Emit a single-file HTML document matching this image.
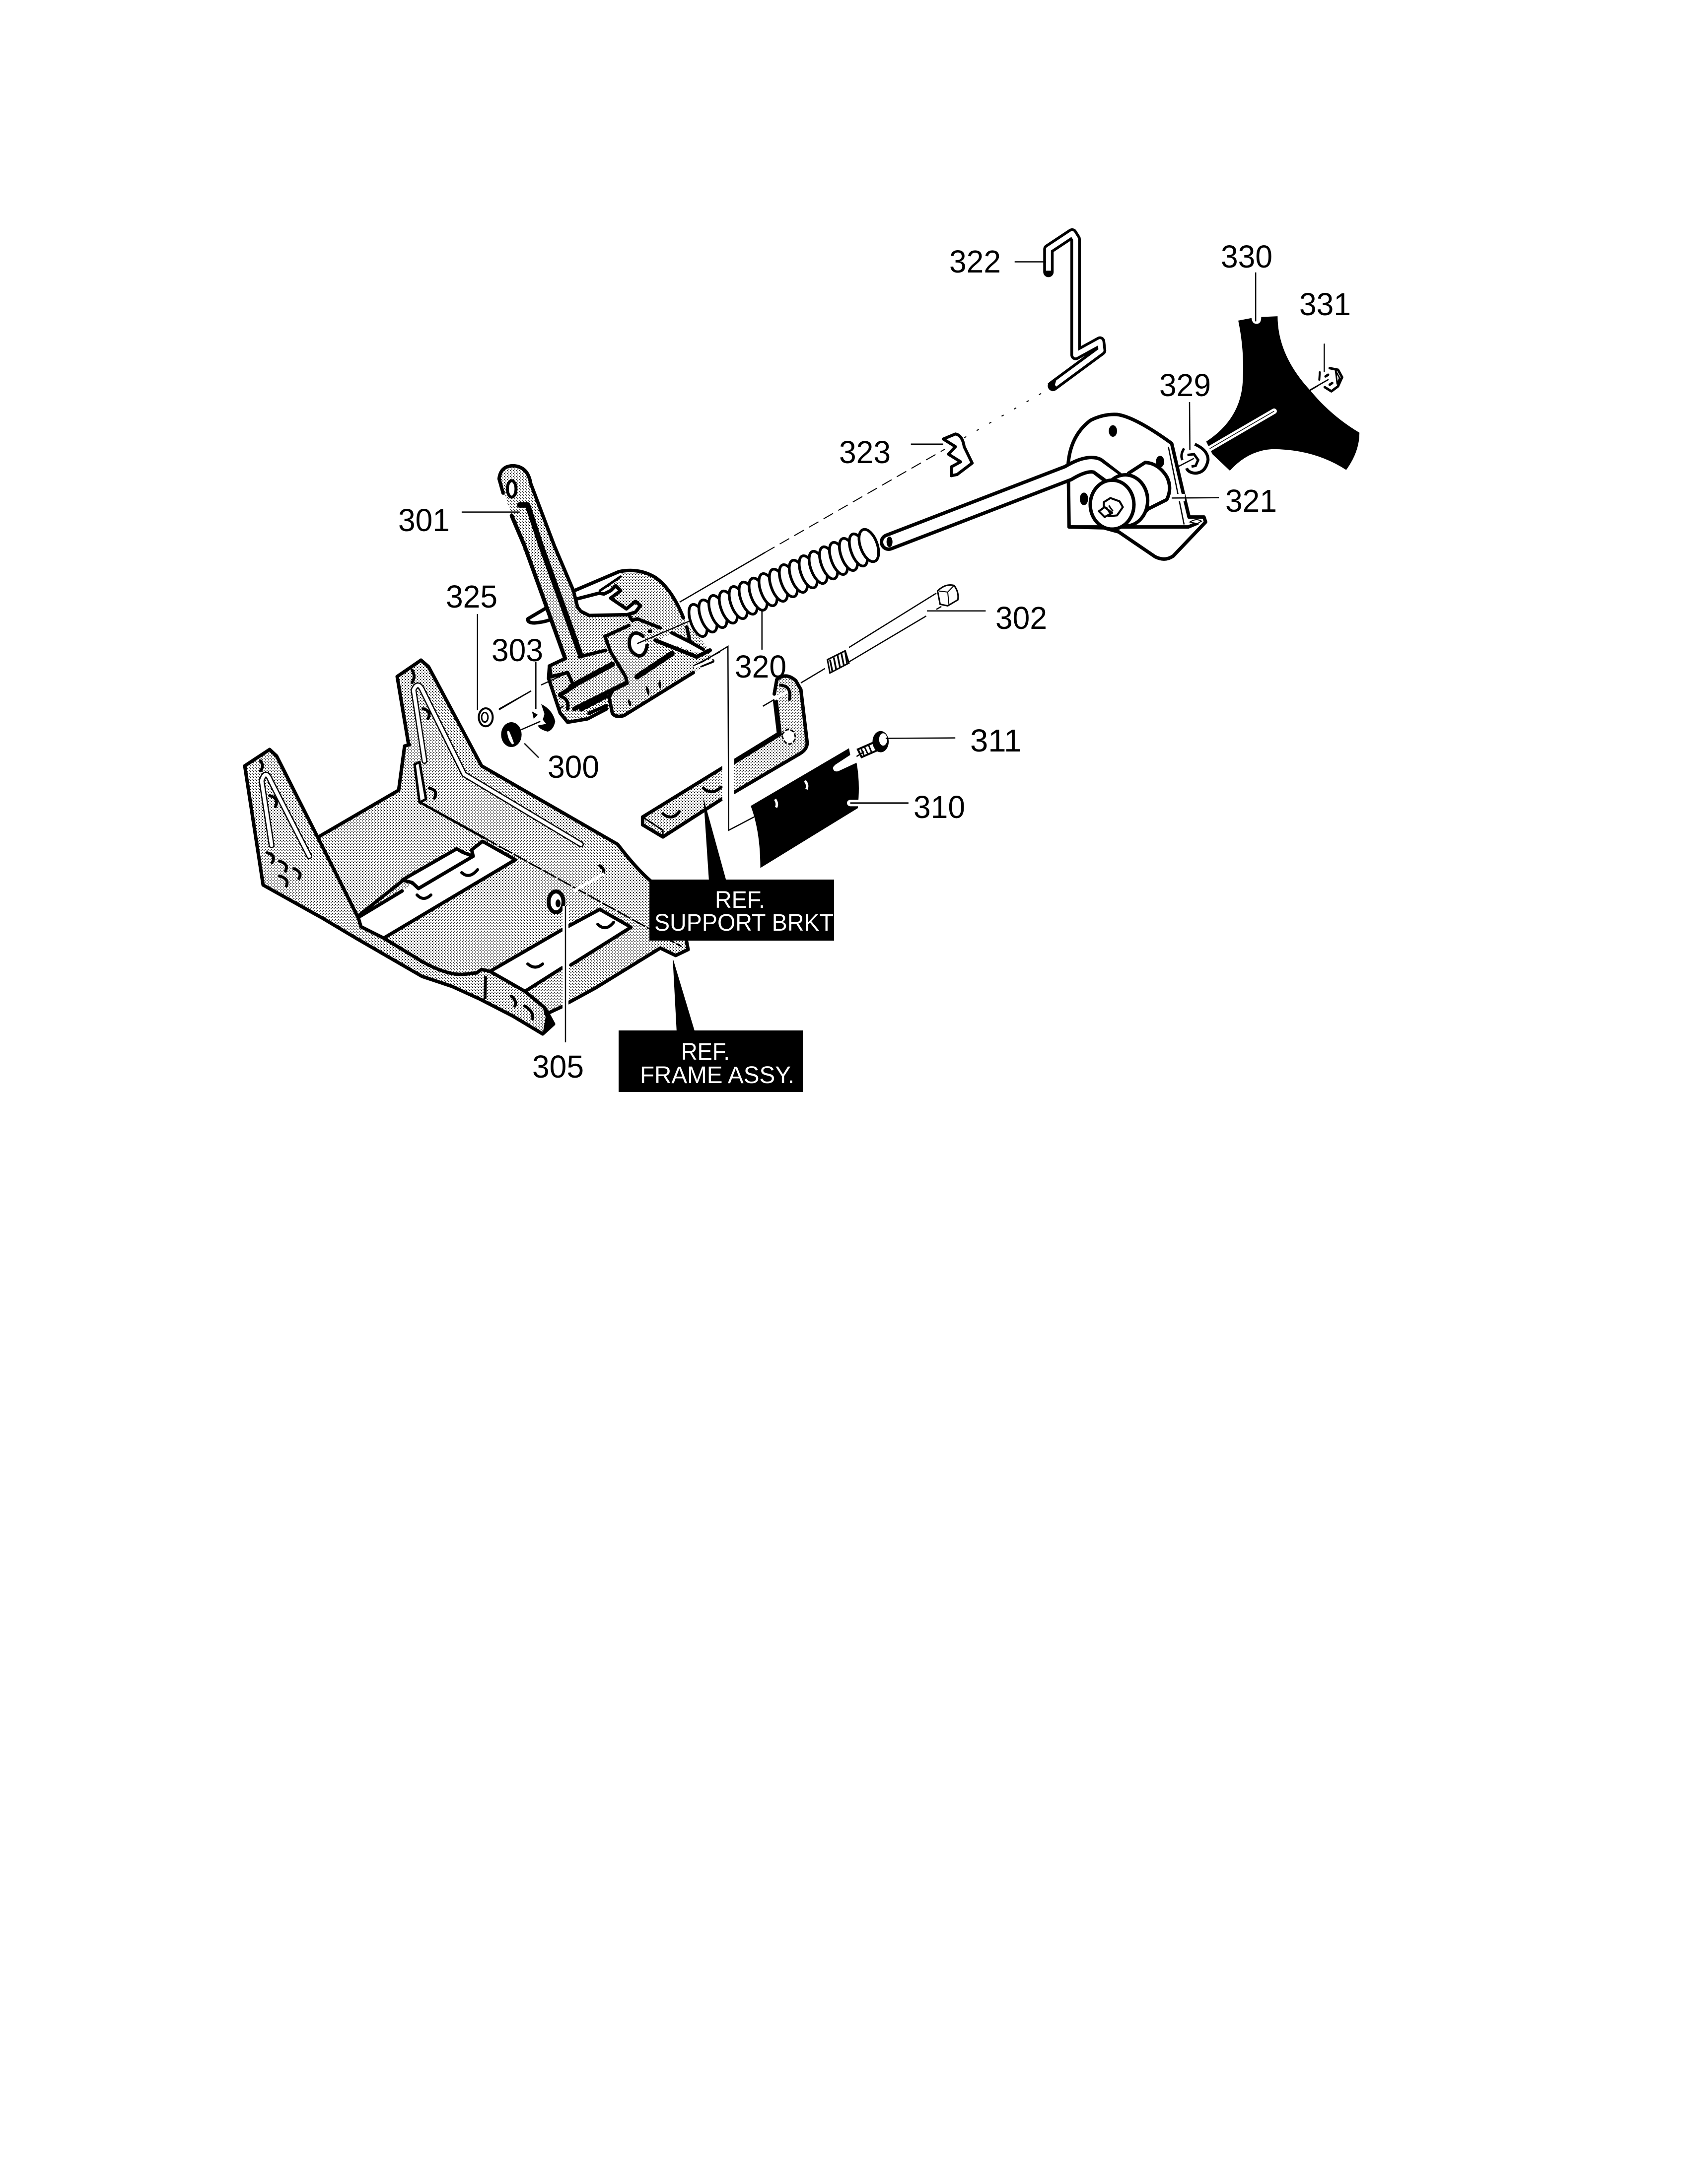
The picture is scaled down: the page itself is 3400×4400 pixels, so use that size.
<!DOCTYPE html>
<html><head><meta charset="utf-8"><style>
html,body{margin:0;padding:0;background:#fff}
svg{display:block}
svg *{vector-effect:non-scaling-stroke}
text{font-family:"Liberation Sans",sans-serif;fill:#000;stroke:none}
.n{font-size:64px}
.w{font-size:48px;fill:#fff}
.k{fill:none;stroke:#000;stroke-width:7;stroke-linejoin:round;stroke-linecap:round}
.t{fill:none;stroke:#000;stroke-width:2.5}
</style></head><body>
<svg xmlns="http://www.w3.org/2000/svg" width="3400" height="4400" viewBox="0 0 3400 4400">
<defs>
<pattern id="p0" width="6" height="6" patternUnits="userSpaceOnUse"><rect x="0" y="0" width="1.8" height="1.8"/><rect x="3" y="3" width="1.8" height="1.8"/></pattern>
<pattern id="p3" width="6" height="6" patternUnits="userSpaceOnUse" patternTransform="scale(3,3)"><rect x="0" y="0" width="1.8" height="1.8"/><rect x="3" y="3" width="1.8" height="1.8"/></pattern>
<pattern id="p4" width="6" height="6" patternUnits="userSpaceOnUse" patternTransform="scale(1.96,2.24)"><rect x="0" y="0" width="1.8" height="1.8"/><rect x="3" y="3" width="1.8" height="1.8"/></pattern>
</defs>
<rect width="3400" height="4400" fill="#fff"/>

<!-- FRAME (real coordinates) -->
<path d="M493,1543 L543,1510 L557,1523 L640,1687 L803,1592 L815,1503 L823,1500 L800,1363 L848,1330 L863,1343 L970,1543 L1244,1701 Q1284,1753 1313,1777 L1382,1892 L1386,1913 L1361,1925 L1330,1910 L1200,1990 L1132,2028 L1100,2043 L1115,2063 L1093,2083 L1033,2047 L967,2013 L910,1987 L850,1967 L717,1890 L650,1850 L530,1783 Z" fill="url(#p0)"/>
<path d="M722,1845 L830,1782 L843,1790 L953,1725 L950,1712 L972,1695 L1038,1732 L773,1890 L727,1867 Z" fill="#fff"/>
<path d="M810,1773 L920,1710 L932,1717 L953,1725 L843,1790 L830,1778 Z" fill="#fff"/>
<path d="M987,1957 L1208,1832 L1271,1868 L1058,1997 Z" fill="#fff"/>
<g class="k">
<path d="M493,1543 L543,1510 L557,1523 L640,1687 L803,1592 L815,1503 L825,1500"/>
<path d="M823,1500 L800,1363 L848,1330 L863,1343 L970,1543 L1244,1701 Q1284,1753 1313,1777"/>
<path d="M493,1543 L530,1783 L650,1850 L717,1890 L850,1967 L910,1987 L967,2013 L1033,2047 L1093,2083 L1115,2063 L1097,2030 L1057,1997 L987,1957 L970,1953 L960,1960 L933,1963 Q900,1965 850,1937 L773,1890 L727,1867 L722,1850 L640,1687"/>
<path d="M1100,2043 L1132,2028"/>
<path d="M1100,2043 L1097,2030" />
<path d="M1145,2020 L1200,1990 L1330,1910 L1361,1925 L1386,1913 L1382,1892"/>
<path d="M722,1845 L810,1775"/>
<path d="M810,1773 L920,1710 L932,1717 L953,1725 L843,1790 L830,1778 Z"/>
<path d="M722,1848 L810,1795" />
<path d="M953,1725 L950,1712 L972,1695 L1038,1732 L773,1890"/>
<path d="M987,1957 L1132,1873 M1145,1866 L1208,1832 L1271,1868 L1150,1944 M1058,1997 L1132,1950"/>
<path d="M847,1617 L975,1688" style="stroke-width:5"/>
<path d="M835,1540 L845,1535 L858,1610 L845,1617 Z" style="stroke-width:5" fill="#fff"/>
</g>
<path d="M975,1688 L1373,1907" class="t" stroke-dasharray="30 4" style="stroke-width:3"/>
<path d="M1100,2043 L1115,2063 L1093,2083 Z" fill="#000"/>
<path d="M978,1967 L977,2013" stroke="#000" stroke-width="6" stroke-dasharray="7 1"/>
<g fill="none" stroke-linecap="round" stroke-linejoin="round">
<path d="M547,1703 L527,1573 Q535,1548 545,1573 L623,1725" stroke="#000" stroke-width="12"/>
<path d="M547,1703 L527,1573 Q535,1548 545,1573 L623,1725" stroke="#fff" stroke-width="7"/>
<path d="M855,1533 L833,1390 Q842,1370 852,1393 L935,1560 L1170,1701" stroke="#000" stroke-width="12"/>
<path d="M855,1533 L833,1390 Q842,1370 852,1393 L935,1560 L1170,1701" stroke="#fff" stroke-width="7"/>
</g>
<g class="k" style="stroke-width:6">
<path d="M543,1603 Q562,1607 555,1625"/><path d="M538,1718 Q557,1723 548,1738"/><path d="M563,1735 Q582,1740 575,1755"/><path d="M592,1750 Q610,1757 602,1770"/><path d="M563,1765 Q583,1770 577,1785"/>
<path d="M852,1428 Q870,1432 862,1448"/><path d="M865,1588 Q883,1592 875,1608"/>
<path d="M840,1803 Q853,1817 868,1803"/><path d="M1063,1942 Q1078,1955 1093,1942"/><path d="M1204,1862 Q1220,1878 1236,1858"/><path d="M1208,1744 Q1222,1753 1211,1765"/>
<path d="M1030,2007 Q1042,2017 1037,2027"/><path d="M1057,2027 Q1075,2037 1073,2053"/>
<path d="M930,1758 Q945,1772 962,1752"/>
<path d="M525,1533 Q532,1543 525,1553"/><path d="M830,1350 Q838,1363 830,1375"/>
</g>
<line x1="1155" y1="1795" x2="1217" y2="1760" stroke="#fff" stroke-width="6"/>
<ellipse cx="1120" cy="1817" rx="15" ry="21" fill="#fff" stroke="#000" stroke-width="8"/>
<ellipse cx="1124" cy="1820" rx="5" ry="8" fill="#000"/>
<line x1="1139" y1="1825" x2="1139" y2="2100" stroke="#fff" stroke-width="12"/>
<line x1="1139" y1="1825" x2="1139" y2="2100" class="t"/>
<!-- wedges -->
<polygon points="1417,1608 1428,1775 1463,1775" fill="#000"/>
<polygon points="1355,1930 1363,2080 1400,2080" fill="#000"/>

<!-- LEVER ASSEMBLY: 3x crop at (1000,1100) -->
<g transform="translate(1000,1100) scale(.33333)">
<path d="M760,160 Q860,130 960,190 Q1060,260 1130,435 L1170,490 L1290,630 L1300,700 L770,1025 Q720,1040 700,1010 L680,985 L550,1045 Q460,1075 420,1060 L385,1010 L355,920 L315,800 L315,730 Q330,700 420,680 L500,670 L490,370 Q500,410 560,420 L790,415 L850,370 L860,345 L790,380 L690,310 L745,265 L715,240 L620,270 L750,180 Z" fill="url(#p3)"/>
<path d="M16,-406 Q25,-485 102,-485 Q190,-480 207,-377 L350,0 L465,270 L490,370 L505,670 L420,685 L155,0 Z" fill="url(#p3)"/>
<path d="M470,270 L740,160 L760,180 L620,270 L490,320 Z" fill="#fff"/>
<path d="M190,440 Q240,410 300,375 L325,445 Q280,465 230,465 Q185,465 190,440 Z" fill="#fff"/>
<path d="M510,990 L665,910 L680,965 L550,1045 Z" fill="url(#p3)"/>
<ellipse cx="850" cy="590" rx="48" ry="80" fill="#fff"/>
<path d="M975,570 L1060,525 L1250,625 L1240,650 Z" fill="#fff"/>
<g class="k">
<path d="M470,270 L740,155 Q860,130 960,190 Q1060,260 1130,435"/>
<path d="M485,320 L620,285 L650,290 L690,270 L720,240 L750,270 L690,315 L785,380 L840,335 L870,360 L840,400 L790,415 L560,420 L510,395 L490,370 L465,270 L350,0 L207,-377 Q190,-480 102,-485 Q25,-485 16,-406 L40,-320"/>
<path d="M625,270 L750,185" style="stroke-width:5"/>
<path d="M800,415 L820,450 L850,440 L990,495"/>
<path d="M300,375 L190,440 Q185,465 230,465 Q290,460 325,445"/>
<path d="M92,-183 L170,0 L415,680" style="stroke-width:8"/>
<path d="M140,-248 L188,-248 L270,0 L505,650" style="stroke-width:11"/>
<path d="M415,680 L320,725 L315,800 L355,920 L385,1010 L430,1065 L550,1045 L665,985"/>
<path d="M500,670 L660,630"/>
<path d="M660,545 L800,480"/>
<path d="M655,545 L690,640 L780,790 L790,830"/>
<path d="M330,790 L430,765 L460,830 M330,790 L320,725"/>
<path d="M450,850 L700,715" style="stroke-width:11"/>
<path d="M385,900 L470,845" style="stroke-width:9"/>
<path d="M470,985 L780,830" style="stroke-width:9"/>
<path d="M510,990 L665,910 M560,1010 L665,965"/>
<path d="M700,880 L680,910 L700,1010 Q720,1040 770,1025 L1190,765"/>
<path d="M850,790 L1060,650" style="stroke-width:11"/>
<path d="M960,570 L1210,670 L1290,630" style="stroke-width:8"/>
<path d="M1060,525 L1170,580 L1250,625 M1150,490 L1170,580"/>
<path d="M1240,720 L1305,695" style="stroke-width:8"/>
<path d="M885,545 Q830,500 805,560 Q790,640 860,665 Q900,665 910,600"/>
<path d="M390,910 Q440,925 430,985"/>
</g>
<rect x="915" y="505" width="25" height="20" fill="#000"/>
<path d="M795,925 Q825,950 810,970 Q790,950 795,925 M905,845 Q935,870 920,905 Q900,880 905,845 M985,810 Q1005,835 990,865 Q970,840 985,810" fill="#000"/>
<line x1="850" y1="590" x2="1175" y2="450" class="t"/>
<line x1="1190" y1="725" x2="1350" y2="640" class="t"/>
<line x1="370" y1="985" x2="405" y2="968" class="t"/>
<line x1="270" y1="840" x2="400" y2="780" class="t"/>
<line x1="15" y1="990" x2="210" y2="875" class="t"/>
<line x1="238" y1="700" x2="238" y2="985" class="t"/>
<line x1="150" y1="1110" x2="265" y2="1060" class="t"/>
<path d="M270,955 Q340,990 355,1060 Q345,1110 310,1122 Q260,1110 250,1085 L300,1075 L280,1050 L290,1015 Z" fill="#000"/>
<polygon points="215,1000 250,1020 225,1045" fill="#000"/>
<ellipse cx="90" cy="1140" rx="62" ry="75" fill="#000"/>
<path d="M70,1120 Q85,1150 100,1195 Q75,1170 70,1120 Z" fill="#fff" stroke="#fff" stroke-width="4"/>
<ellipse cx="92" cy="-345" rx="26" ry="50" fill="#fff" stroke="#000" stroke-width="6"/>
</g>
<g transform="translate(750,850) scale(.638,.478)">
<ellipse cx="358" cy="1245" rx="22" ry="38" fill="#fff" stroke="#000" stroke-width="4"/>
<ellipse cx="355" cy="1245" rx="10" ry="20" fill="none" stroke="#000" stroke-width="3"/>
<g class="t">
<path d="M282,380 L465,380"/>
<path d="M332,810 L332,1215"/>
<path d="M400,1210 L500,1135"/>
<path d="M480,1355 L525,1415"/>
<path d="M1230,755 L1230,960"/>
</g>
</g>
<!-- long leader 323 to lever -->
<line x1="1369" y1="1213" x2="1541" y2="1113" stroke="#000" stroke-width="2.5"/>
<line x1="1541" y1="1113" x2="1903" y2="905" stroke="#000" stroke-width="2" stroke-dasharray="22 12"/>

<!-- SPRING -->
<g fill="#fff" stroke="#000" stroke-width="5.5">
<ellipse transform="translate(1406,1250) rotate(-20)" rx="15" ry="34"/>
<ellipse transform="translate(1426,1241) rotate(-20)" rx="15" ry="34"/>
<ellipse transform="translate(1446,1232) rotate(-20)" rx="15" ry="34"/>
<ellipse transform="translate(1467,1223) rotate(-20)" rx="15" ry="34"/>
<ellipse transform="translate(1487,1214) rotate(-20)" rx="15" ry="34"/>
<ellipse transform="translate(1507,1205) rotate(-20)" rx="15" ry="34"/>
<ellipse transform="translate(1527,1197) rotate(-20)" rx="15" ry="34"/>
<ellipse transform="translate(1547,1188) rotate(-20)" rx="15" ry="34"/>
<ellipse transform="translate(1568,1179) rotate(-20)" rx="15" ry="34"/>
<ellipse transform="translate(1588,1170) rotate(-20)" rx="15" ry="34"/>
<ellipse transform="translate(1608,1161) rotate(-20)" rx="15" ry="34"/>
<ellipse transform="translate(1628,1152) rotate(-20)" rx="15" ry="34"/>
<ellipse transform="translate(1648,1143) rotate(-20)" rx="15" ry="34"/>
<ellipse transform="translate(1669,1134) rotate(-20)" rx="15" ry="34"/>
<ellipse transform="translate(1689,1125) rotate(-20)" rx="15" ry="34"/>
<ellipse transform="translate(1709,1117) rotate(-20)" rx="15" ry="34"/>
<ellipse transform="translate(1729,1108) rotate(-20)" rx="15" ry="34"/>
<ellipse transform="translate(1750,1099) rotate(-20)" rx="17" ry="34"/>
</g>

<!-- BRACKET, BLADE, BOLTS -->
<g transform="translate(1200,1050) scale(.51,.4464)">
<path d="M715,715 Q750,680 790,720 L810,760 L835,1000 Q835,1030 805,1050 L265,1425 L185,1370 L185,1335 L725,960 Z" fill="url(#p4)"/>
<g class="k">
<path d="M705,780 L715,715 Q750,680 790,720 L810,760 L835,1000 Q835,1030 805,1050 L540,1228"/>
<path d="M510,1245 L265,1425 L185,1370 L185,1335 L505,1110"/>
<path d="M540,1090 L725,960 L710,815" style="stroke-width:10"/>
</g>
<path d="M185,1335 L265,1395 L265,1425" fill="none" stroke="#000" stroke-width="3"/>
<path d="M735,965 Q755,925 780,950 Q800,985 770,1005 Q745,1010 735,965" fill="#fff" stroke="#000" stroke-width="3" stroke-dasharray="8 3"/>
<line x1="523" y1="1060" x2="523" y2="1260" stroke="#fff" stroke-width="24"/>
<g class="k" style="stroke-width:6">
<path d="M730,740 Q775,745 765,805"/><path d="M425,1205 Q460,1240 495,1200"/><path d="M265,1320 Q300,1355 330,1310"/>
</g>
<line x1="705" y1="805" x2="755" y2="768" stroke="#fff" stroke-width="5"/>
<line x1="660" y1="835" x2="705" y2="805" class="t"/>
<path d="M385,660 L522,565 L525,1395 L625,1335" class="t"/>
<path d="M388,660 L460,625" stroke="#fff" stroke-width="5"/>
<path d="M612,1285 L1000,1025 L1005,1055 L945,1100 L955,1130 L1030,1090 Q1045,1180 1035,1290 L1000,1285 L1000,1260 L1037,1255 L1035,1295 L650,1565 Q650,1400 612,1285 Z" fill="#000"/>
<path d="M950,1115 L1030,1060" stroke="#fff" stroke-width="13" stroke-linecap="round"/>
<path d="M1005,1272 L1040,1272" stroke="#fff" stroke-width="13" stroke-linecap="round"/>
<line x1="1005" y1="1272" x2="1235" y2="1272" class="t" style="stroke-width:3"/>
<path d="M708,1255 Q720,1275 712,1292 M826,1172 Q840,1190 832,1210" fill="none" stroke="#fff" stroke-width="5"/>
<path d="M1035,1030 L1095,1000 L1110,1035 L1050,1065 Z" fill="#fff" stroke="#000" stroke-width="4"/>
<path d="M1048,1025 L1060,1060 M1062,1020 L1075,1052 M1078,1012 L1090,1045" stroke="#000" stroke-width="3"/>
<ellipse cx="1125" cy="995" rx="32" ry="48" fill="#000"/>
<ellipse cx="1135" cy="985" rx="16" ry="28" fill="#fff"/>
<line x1="1145" y1="980" x2="1420" y2="978" class="t"/>
<line x1="1030" y1="1062" x2="1060" y2="1040" class="t"/>
<path d="M1345,325 L1000,570 M1305,428 L1000,635 M905,665 L810,730" class="t"/>
<path d="M915,625 L985,585 L1000,640 L925,685 Z" fill="#fff" stroke="#000" stroke-width="3"/>
<path d="M925,625 L935,680 M940,615 L950,672 M955,605 L965,662 M970,597 L980,652 M985,588 L993,645" stroke="#000" stroke-width="3.5"/>
<path d="M1350,315 Q1380,280 1415,290 Q1435,320 1430,355 L1390,382 L1360,375 Z" fill="#fff" stroke="#000" stroke-width="3"/>
<path d="M1355,315 L1390,320 L1415,290 M1390,320 L1395,378" fill="none" stroke="#000" stroke-width="2"/>
<path d="M1308,405 L1540,405" class="t"/>
<path d="M1365,385 L1345,398" class="t"/>
</g>

<!-- UPPER RIGHT -->
<g transform="translate(1700,400) scale(.7015,.51)">
<path d="M587,290 L587,200 L655,138 L665,160 L665,618 L735,565 L738,600 L600,740" fill="none" stroke="#000" stroke-width="21" stroke-linejoin="round" stroke-linecap="round"/>
<path d="M587,285 L587,200 L655,138 L665,160 L665,618 L735,565 L738,600 L605,735" fill="none" stroke="#fff" stroke-width="10" stroke-linejoin="round"/>
<path d="M585,730 L610,715 L600,762 Z" fill="#000"/>
<line x1="490" y1="250" x2="580" y2="250" class="t"/>
<line x1="345" y1="945" x2="585" y2="755" class="t" stroke-dasharray="5 24" style="stroke-width:2"/>
<path d="M285,950 L320,930 Q340,935 345,980 L368,1045 L325,1090 L308,1095 L308,1060 L335,1040 L300,1010 L320,980 Z" fill="#fff" stroke="#000" stroke-width="6" stroke-linejoin="round"/>
<line x1="192" y1="970" x2="285" y2="970" class="t"/>
<path d="M1132,482 L1170,472 Q1172,495 1185,495 Q1198,495 1198,468 L1245,465 Q1245,620 1340,760 Q1400,860 1480,925 Q1480,1000 1442,1072 Q1350,990 1230,990 Q1160,995 1108,1075 L1058,1010 L1040,960 Q1140,870 1145,720 Q1150,600 1132,482 Z" fill="#000"/>
<path d="M1235,840 L1050,988" stroke="#fff" stroke-width="11" stroke-linecap="round"/>
<path d="M1235,840 L1050,988" stroke="#000" stroke-width="1.5"/>
<line x1="1182" y1="292" x2="1182" y2="485" class="t"/>
<line x1="1338" y1="758" x2="1360" y2="740" class="t"/>
</g>

<!-- PLATE 321: 3x crop at (2100,820) -->
<g transform="translate(2100,820) scale(.33333)">
<path d="M155,340 Q170,170 290,80 Q370,40 450,45 Q560,60 780,220 L850,520 L885,665 L975,665 L985,695 L790,900 Q740,935 680,905 L460,755 L370,730 L160,725 Z" fill="#fff" stroke="#000" stroke-width="7" stroke-linejoin="round"/>
<path d="M160,725 L880,725 L940,700" fill="none" stroke="#000" stroke-width="7"/>
<path d="M760,240 L855,710" fill="none" stroke="#000" stroke-width="2.5"/>
<path d="M890,695 Q930,670 960,690 L935,705 Z" fill="#fff" stroke="#000" stroke-width="2"/>
<rect x="770" y="525" width="90" height="45" fill="#fff"/>
<line x1="780" y1="550" x2="1065" y2="548" stroke="#000" stroke-width="2.5"/>
<ellipse cx="425" cy="145" rx="25" ry="35" fill="#000"/>
<ellipse cx="250" cy="555" rx="25" ry="38" fill="#000"/>
<ellipse cx="710" cy="330" rx="25" ry="35" fill="#000"/>
<path d="M520,400 L620,335 Q700,340 750,420 Q785,490 750,560 L640,615 L560,690 L450,500 Z" fill="#fff" stroke="#000" stroke-width="7" stroke-linejoin="round"/>
<path d="M-930,816 L155,399 Q270,330 330,355 L440,440" fill="none" stroke="#000" stroke-width="36" stroke-linecap="round" stroke-linejoin="round"/>
<path d="M-930,816 L155,399 Q270,330 330,355 L460,450" fill="none" stroke="#fff" stroke-width="22" stroke-linecap="round" stroke-linejoin="round"/>
<ellipse cx="-925" cy="815" rx="18" ry="32" fill="#000"/>
<path d="M430,420 L520,400 Q620,440 640,560 L580,670 L450,500 Z" fill="#fff"/>
<ellipse cx="500" cy="565" rx="135" ry="155" fill="#fff" stroke="#000" stroke-width="7"/>
<ellipse cx="420" cy="590" rx="132" ry="148" fill="#fff" stroke="#000" stroke-width="7"/>
<path d="M370,575 L410,550 L465,570 L485,605 L450,655 L400,660 L370,625 Z" fill="#fff" stroke="#000" stroke-width="4" stroke-linejoin="round"/>
<path d="M340,630 L375,605 L420,640 L375,665 Z" fill="#fff" stroke="#000" stroke-width="4" stroke-linejoin="round"/>
<path d="M385,605 L405,640 M400,595 L425,630" stroke="#000" stroke-width="3"/>
<path d="M920,225 Q1000,260 1000,320 Q985,400 920,400 Q880,395 870,370" fill="none" stroke="#000" stroke-width="6"/>
<path d="M855,250 Q830,290 845,320" fill="none" stroke="#000" stroke-width="5"/>
<path d="M875,290 L915,285 L940,320 L925,355 L900,360" fill="none" stroke="#000" stroke-width="5"/>
<line x1="820" y1="360" x2="915" y2="310" stroke="#000" stroke-width="2.5"/>
<line x1="888" y1="-30" x2="890" y2="260" stroke="#000" stroke-width="2.5"/>
</g>

<!-- NUT 331: 3x crop at (2640,710) -->
<g transform="translate(2640,710) scale(.33333)" fill="none" stroke="#000" stroke-linejoin="round" stroke-linecap="round">
<path d="M115,95 L165,105 L190,150 L165,205 L125,235 L85,210" stroke-width="5"/>
<path d="M150,110 L175,155 L160,190 Q155,140 150,110" stroke-width="3"/>
<path d="M55,120 L52,165" stroke-width="4"/>
<path d="M90,145 L105,135 M115,195 L130,185" stroke-width="5"/>
<path d="M0,225 L105,165" stroke-width="2.5"/>
<path d="M82,-50 L82,115" stroke-width="2.5"/>
</g>

<!-- REF BOXES -->
<rect x="1308" y="1772" width="372" height="123" fill="#000"/>
<rect x="1246" y="2076" width="371" height="124" fill="#000"/>
<text class="w" x="1440" y="1829" textLength="101" lengthAdjust="spacingAndGlyphs">REF.</text>
<text class="w" x="1318" y="1875" textLength="361" lengthAdjust="spacingAndGlyphs">SUPPORT BRKT</text>
<text class="w" x="1372" y="2135" textLength="98" lengthAdjust="spacingAndGlyphs">REF.</text>
<text class="w" x="1289" y="2182" textLength="311" lengthAdjust="spacingAndGlyphs">FRAME ASSY.</text>

<!-- NUMBERS -->
<text class="n" x="802" y="1070" textLength="104" lengthAdjust="spacingAndGlyphs">301</text>
<text class="n" x="898" y="1224" textLength="104" lengthAdjust="spacingAndGlyphs">325</text>
<text class="n" x="990" y="1332" textLength="104" lengthAdjust="spacingAndGlyphs">303</text>
<text class="n" x="1480" y="1365" textLength="104" lengthAdjust="spacingAndGlyphs">320</text>
<text class="n" x="1103" y="1567" textLength="104" lengthAdjust="spacingAndGlyphs">300</text>
<text class="n" x="1072" y="2171" textLength="104" lengthAdjust="spacingAndGlyphs">305</text>
<text class="n" x="1912" y="549" textLength="104" lengthAdjust="spacingAndGlyphs">322</text>
<text class="n" x="2459" y="539" textLength="104" lengthAdjust="spacingAndGlyphs">330</text>
<text class="n" x="2617" y="635" textLength="104" lengthAdjust="spacingAndGlyphs">331</text>
<text class="n" x="2335" y="798" textLength="104" lengthAdjust="spacingAndGlyphs">329</text>
<text class="n" x="2468" y="1031" textLength="104" lengthAdjust="spacingAndGlyphs">321</text>
<text class="n" x="1690" y="933" textLength="104" lengthAdjust="spacingAndGlyphs">323</text>
<text class="n" x="1840" y="1648" textLength="104" lengthAdjust="spacingAndGlyphs">310</text>
<text class="n" x="1954" y="1514" textLength="104" lengthAdjust="spacingAndGlyphs">311</text>
<text class="n" x="2005" y="1267" textLength="104" lengthAdjust="spacingAndGlyphs">302</text>
</svg>
</body></html>
